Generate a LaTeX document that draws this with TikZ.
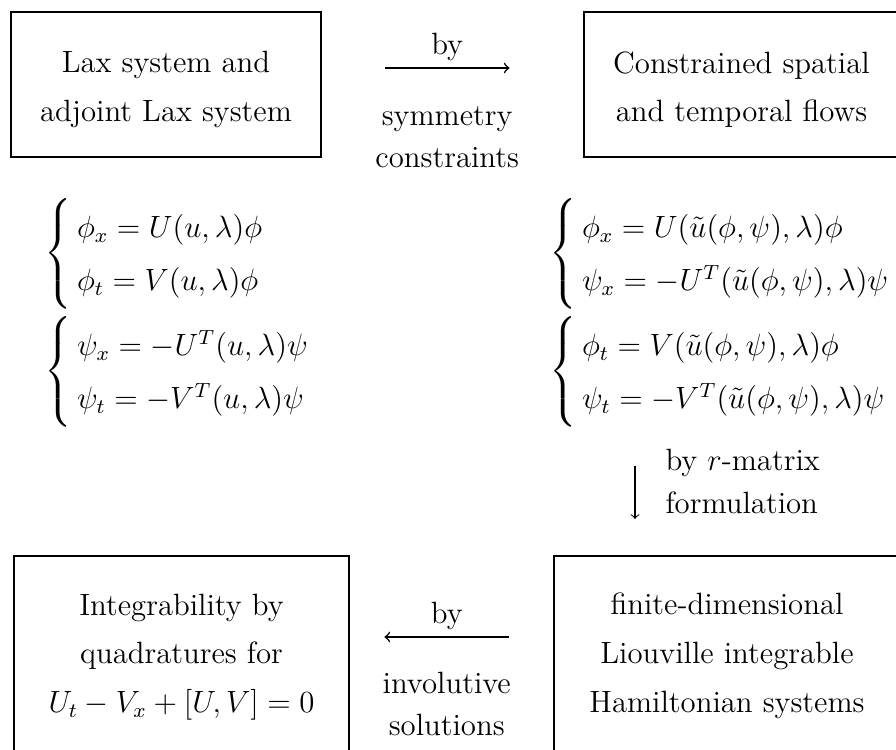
\documentclass[12pt,tikz,border=0pt]{standalone}
\usepackage{amsmath}
\usetikzlibrary{calc}
\renewcommand{\arraystretch}{1.43}
\setlength{\arraycolsep}{2pt}

\begin{document}
\begin{tikzpicture}[x=0.0137cm, y=-0.0137cm,
  box/.style={draw, line width=0.8pt, align=center, font=\fontsize{12}{19}\selectfont},
  lbl/.style={align=center, inner sep=2.5pt, font=\fontsize{12}{16.5}\selectfont},
  flow/.style={->, line width=0.6pt},
  eqn/.style={anchor=west, inner sep=0pt}]
\useasboundingbox (0,0) rectangle (896,750);
\clip (0,0) rectangle (896,750);

\node[box, text height=31.4pt, minimum width=120.7pt, minimum height=56.5pt] (lax) at (166,84.5) {Lax system and\\adjoint Lax system};
\node[box, text height=31.4pt, minimum width=123.1pt, minimum height=56.5pt] (con) at (741.5,84.5) {Constrained spatial\\and temporal flows};
\node[box, minimum width=130.5pt, minimum height=78.7pt] (quad) at (181.5,657) {Integrability by\\quadratures for\\$U_t-V_x+[U,V]=0$};
\node[box, minimum width=134.8pt, minimum height=78pt] (ham) at (727,656) {finite-dimensional\\Liouville integrable\\Hamiltonian systems};

\node[eqn] (laxx) at (44,253.5) {$\left\{\begin{array}{l} \phi_x=U(u,\lambda)\phi\\ \phi_t=V(u,\lambda)\phi \end{array}\right.$};
\node[eqn] (laxt) at (44,371.5) {$\left\{\begin{array}{l} \psi_x=-U^T(u,\lambda)\psi\\ \psi_t=-V^T(u,\lambda)\psi \end{array}\right.$};
\node[eqn] (conx) at (549,253.5) {$\left\{\begin{array}{l} \phi_x=U(\tilde{u}(\phi,\psi),\lambda)\phi\\ \psi_x=-U^T(\tilde{u}(\phi,\psi),\lambda)\psi \end{array}\right.$};
\node[eqn] (cont) at (549,371.5) {$\left\{\begin{array}{l} \phi_t=V(\tilde{u}(\phi,\psi),\lambda)\phi\\ \psi_t=-V^T(\tilde{u}(\phi,\psi),\lambda)\psi \end{array}\right.$};

\draw[flow] ($(lax.east)+(63,-16.5)$) -- node[lbl, above] {by} node[lbl, below=12.3pt] {symmetry\\constraints} ($(con.west)+(-73,-16.5)$);
\draw[flow, line width=0.4pt] ($(con.south)+(-106.5,308)$) -- node[lbl, align=left, anchor=west, xshift=9.2pt, yshift=4.3pt] {by $r$-matrix\\formulation} ($(ham.north)+(-92,-36)$);
\draw[flow] ($(ham.west)+(-44,-19)$) -- node[lbl, above] {by} node[lbl, below=10.9pt] {involutive\\solutions} ($(quad.east)+(34.5,-20)$);

\end{tikzpicture}
\end{document}
